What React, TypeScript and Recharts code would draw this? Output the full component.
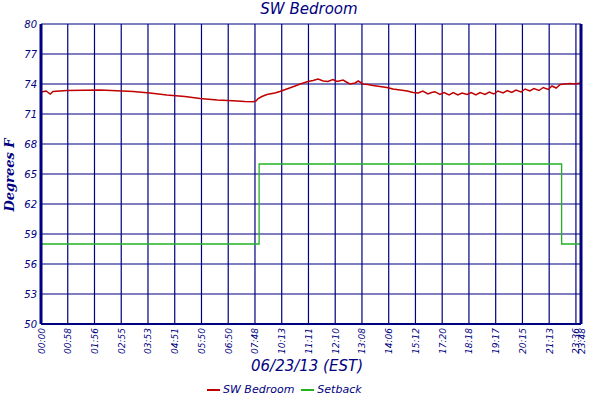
import React from "react";
import { CartesianGrid, Line, LineChart, XAxis, YAxis } from "recharts";

// ---- data -------------------------------------------------------------

// x = sample index (one sample ~ one minute, gaps removed)
const X_TICKS = [0, 58, 116, 174, 232, 290, 348, 406, 464, 522, 580, 638, 696, 754, 812, 870, 928, 986, 1044, 1102, 1160, 1171];
const X_LABELS = [
  "00:00", "00:58", "01:56", "02:55", "03:53", "04:51", "05:50", "06:50", "07:48", "10:13", "11:11",
  "12:10", "13:08", "14:06", "15:12", "17:20", "18:18", "19:17", "20:15", "21:13", "23:36", "23:48",
];
const Y_TICKS = [50, 53, 56, 59, 62, 65, 68, 71, 74, 77, 80];

const TEMP_IDX = [
  0, 11, 20, 26, 56, 128, 200, 236, 273, 312, 345, 382, 416, 442, 460, 466, 471, 479, 490, 507, 518, 536,
  551, 562, 579, 590, 601, 612, 622, 633, 642, 655, 664, 670, 681, 688, 698, 709, 720, 735, 750, 763, 779,
  794, 807, 818, 828, 839, 847, 854, 865, 874, 885, 894, 904, 913, 924, 933, 943, 952, 963, 972, 982, 991,
  1002, 1011, 1021, 1030, 1041, 1050, 1060, 1069, 1080, 1089, 1100, 1108, 1117, 1126, 1136, 1147, 1158, 1171,
];
const TEMP_VALUES = [
  73.2, 73.3, 73.0, 73.25, 73.35, 73.4, 73.25, 73.1, 72.9, 72.75, 72.55, 72.4, 72.32, 72.25, 72.22, 72.3, 72.55,
  72.75, 72.95, 73.1, 73.25, 73.55, 73.8, 74.0, 74.25, 74.35, 74.5, 74.3, 74.25, 74.45, 74.25, 74.4, 74.15, 74.0,
  74.1, 74.3, 74.0, 73.95, 73.85, 73.75, 73.65, 73.5, 73.4, 73.3, 73.16, 73.1, 73.3, 73.0, 73.15, 73.23, 72.95,
  73.15, 72.9, 73.15, 72.9, 73.1, 72.95, 73.15, 72.9, 73.15, 72.95, 73.2, 73.0, 73.3, 73.1, 73.35, 73.15, 73.4,
  73.2, 73.5, 73.3, 73.55, 73.35, 73.65, 73.45, 73.8, 73.6, 73.95, 74.0, 74.05, 74.0, 74.1,
];

const SETBACK_IDX = [0, 473, 1129, 1171];
const SETBACK_VALUES = [58, 66, 58, 58];

const tempData = TEMP_IDX.map((x, i) => ({ x, temp: TEMP_VALUES[i] }));
const setbackData = SETBACK_IDX.map((x, i) => ({ x, setback: SETBACK_VALUES[i] }));

// ---- styling ------------------------------------------------------------

const NAVY = "#000080";
const RED = "#c00000";
const GREEN = "#22b322";
const FONT = "'DejaVu Sans', Verdana, sans-serif";
const Y_TICK = { fill: NAVY, fontSize: 10, fontStyle: "italic", fontFamily: FONT } as const;

function XTick({ x, y, index }: { x?: number; y?: number; index?: number }) {
  const tx = (x ?? 0) + 3.5;
  const ty = y ?? 0;
  return (
    <text
      x={tx}
      y={ty}
      transform={`rotate(-90, ${tx}, ${ty})`}
      textAnchor="end"
      fill={NAVY}
      fontSize={9}
      fontStyle="italic"
      fontFamily={FONT}
    >
      {X_LABELS[index ?? 0]}
    </text>
  );
}

export default function App() {
  return (
    <div style={{ position: "absolute", left: 0, top: 0, width: 600, height: 400, background: "#fff", fontFamily: FONT }}>
      <div
        style={{
          position: "absolute", left: 0, width: 600, top: 0, textAlign: "center", paddingLeft: 18,
          boxSizing: "border-box", color: NAVY, fontSize: 15, fontStyle: "italic", lineHeight: "18px",
        }}
      >
        SW Bedroom
      </div>
      <LineChart
        width={600}
        height={400}
        data={tempData}
        margin={{ top: 24, right: 0, bottom: 0, left: 0 }}
      >
        <CartesianGrid stroke={NAVY} strokeWidth={1.2} yAxisId="left" />
        <XAxis
          dataKey="x"
          type="number"
          domain={[0, 1171]}
          ticks={X_TICKS}
          interval={0}
          height={76}
          tickSize={0}
          tickMargin={4}
          tick={<XTick />}
          axisLine={{ stroke: NAVY, strokeWidth: 2 }}
          tickLine={false}
          allowDataOverflow
        />
        <YAxis
          yAxisId="left"
          domain={[50, 80]}
          ticks={Y_TICKS}
          width={41}
          tick={Y_TICK}
          tickSize={4}
          tickMargin={0}
          tickLine={false}
          axisLine={{ stroke: NAVY, strokeWidth: 3 }}
        />
        <YAxis
          yAxisId="right"
          orientation="right"
          domain={[50, 80]}
          ticks={Y_TICKS}
          width={19}
          tick={{ ...Y_TICK, textAnchor: "start" }}
          tickSize={4}
          tickMargin={0}
          tickLine={false}
          axisLine={{ stroke: NAVY, strokeWidth: 3 }}
        />
        <Line
          yAxisId="left"
          data={setbackData}
          dataKey="setback"
          type="stepAfter"
          stroke={GREEN}
          strokeWidth={1.3}
          dot={false}
          isAnimationActive={false}
        />
        <Line
          yAxisId="left"
          data={tempData}
          dataKey="temp"
          type="linear"
          stroke={RED}
          strokeWidth={1.5}
          dot={false}
          isAnimationActive={false}
        />
      </LineChart>
      <div
        style={{
          position: "absolute", left: 0, top: 175, transform: "translate(-50%, -50%) rotate(-90deg)",
          marginLeft: 9, color: NAVY, fontSize: 13, fontStyle: "italic", fontWeight: "bold",
          fontFamily: "'DejaVu Serif', serif", whiteSpace: "nowrap",
        }}
      >
        Degrees F
      </div>
      <div
        style={{
          position: "absolute", left: 0, width: 600, top: 356, textAlign: "center", paddingLeft: 14,
          boxSizing: "border-box", color: NAVY, fontSize: 15, fontStyle: "italic", lineHeight: "20px",
        }}
      >
        06/23/13 (EST)
      </div>
      <div
        style={{
          position: "absolute", left: 207, top: 382, display: "flex", alignItems: "center",
          color: NAVY, fontSize: 11, fontStyle: "italic", lineHeight: "16px",
        }}
      >
        <span style={{ display: "inline-block", width: 13, height: 2, background: RED, marginRight: 3 }} />
        <span style={{ marginRight: 7 }}>SW Bedroom</span>
        <span style={{ display: "inline-block", width: 13, height: 2, background: GREEN, marginRight: 3 }} />
        <span>Setback</span>
      </div>
    </div>
  );
}
